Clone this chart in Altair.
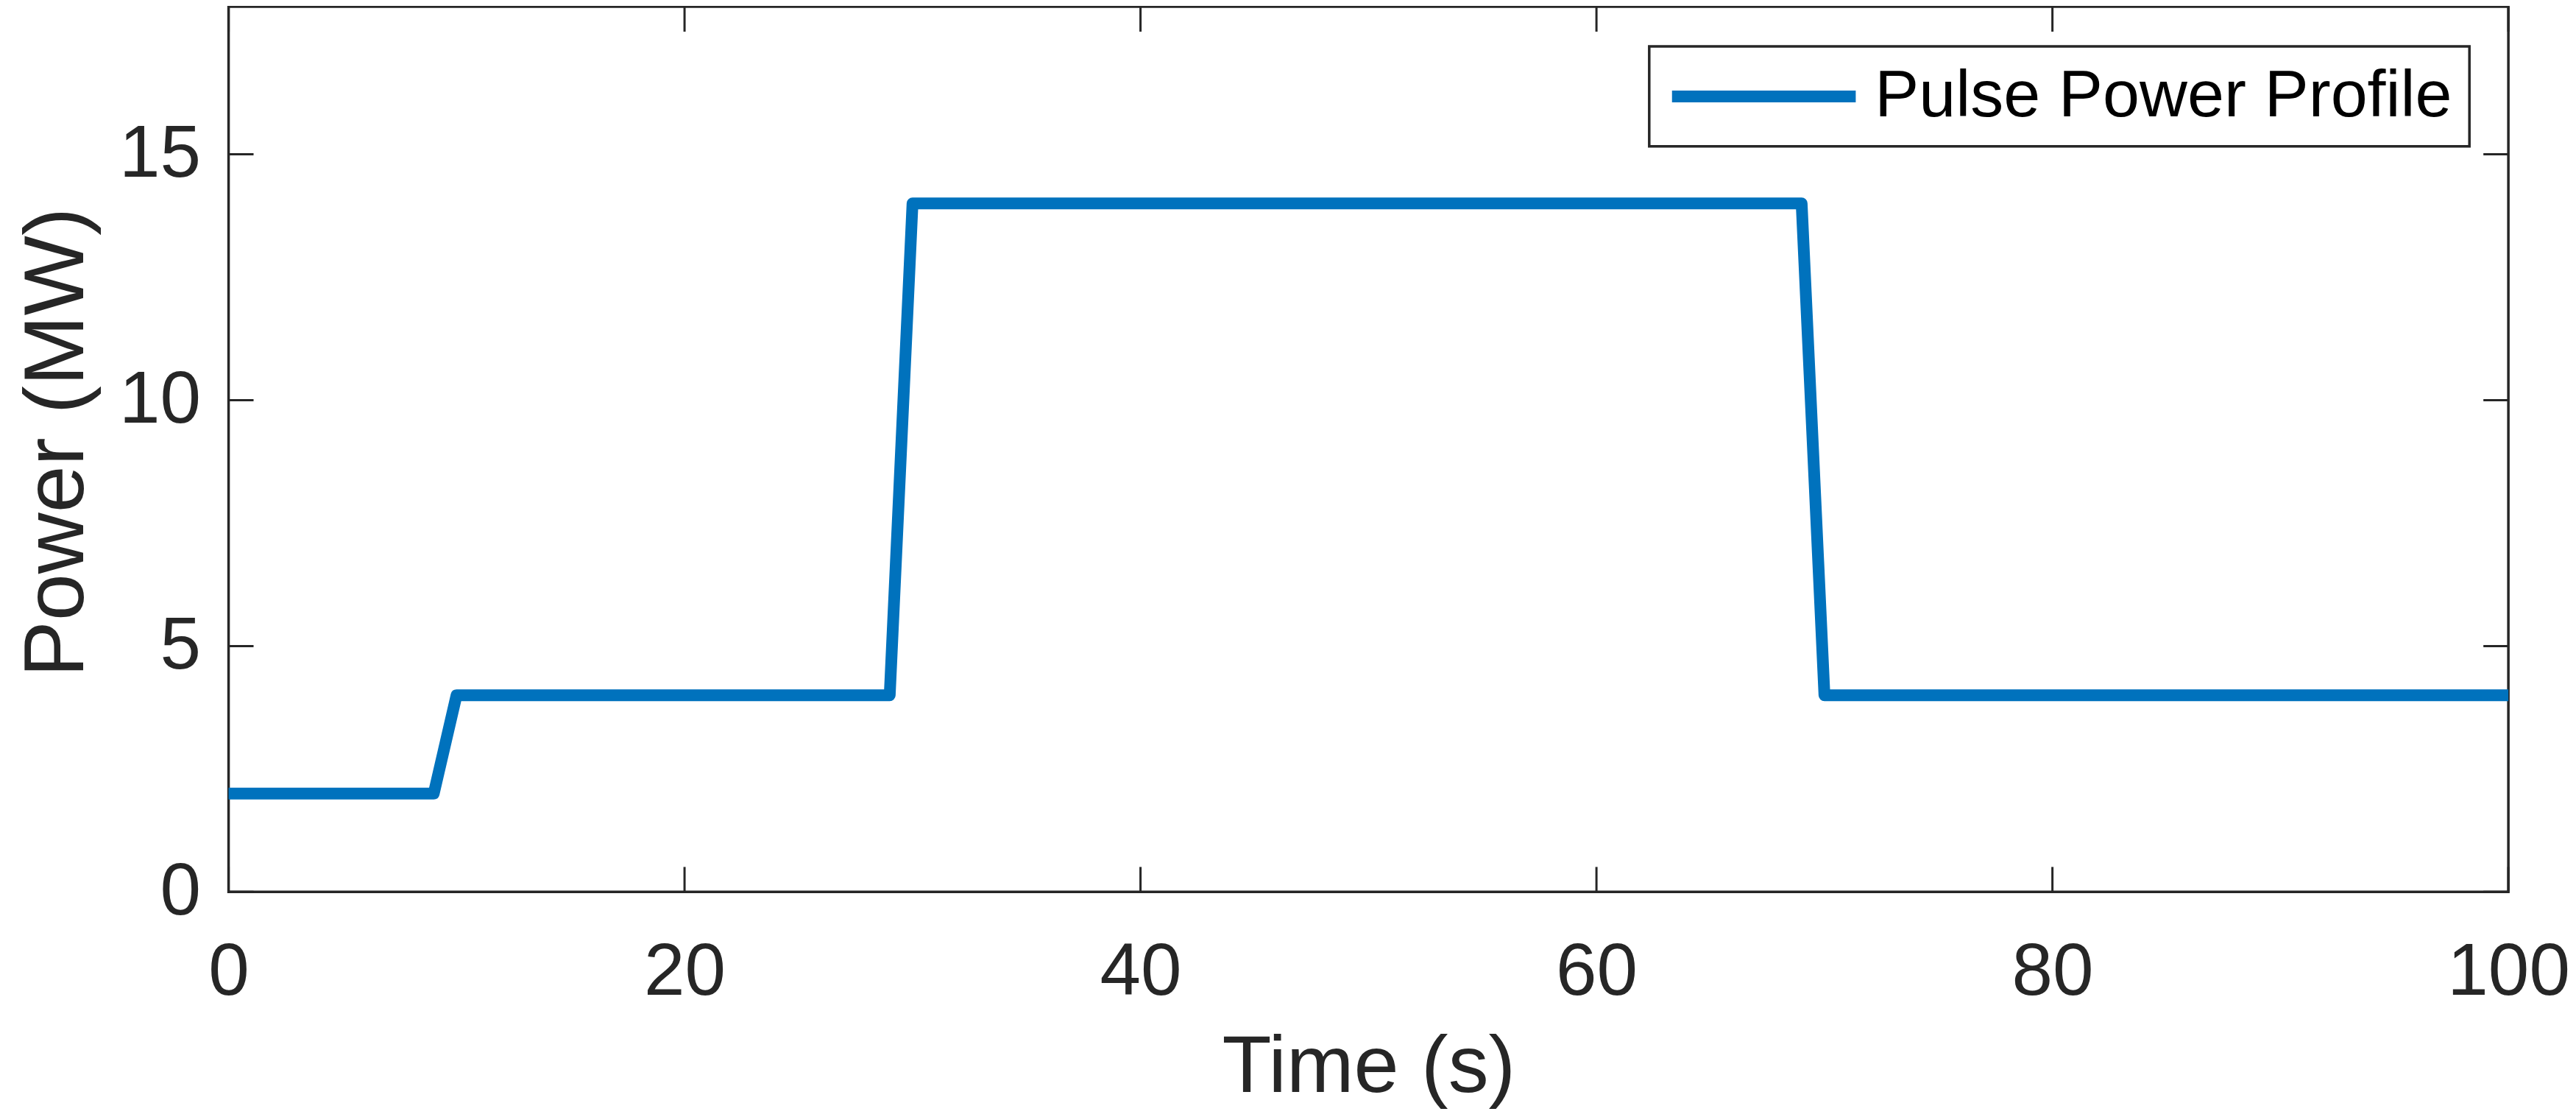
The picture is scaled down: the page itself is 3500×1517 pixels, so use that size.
import altair as alt
import pandas as pd

# Data
time_s = [0, 9, 10, 29, 30, 69, 70, 100]
power_mw = [2, 2, 4, 4, 14, 14, 4, 4]
series_name = "Pulse Power Profile"
x_tick_values = [0, 20, 40, 60, 80, 100]
y_tick_values = [0, 5, 10, 15]

W, H = 3102, 1204
TICK = 34
FONT = "Liberation Sans"
AX = "#262626"

df = pd.DataFrame({"t": time_s, "p": power_mw, "s": [series_name] * len(time_s)})
xt = pd.DataFrame({"t": x_tick_values})
yt = pd.DataFrame({"p": y_tick_values})

xs = alt.Scale(domain=[0, 100], nice=False, zero=False)
ys = alt.Scale(domain=[0, 18], nice=False, zero=False)

x_axis = alt.Axis(
    values=x_tick_values, title="Time (s)", labelFontSize=100, labelFont=FONT,
    labelColor=AX, labelPadding=60, ticks=False, tickSize=0, domain=False, grid=False,
    labelFlush=False, labelOverlap=False,
    titleFont=FONT, titleFontSize=110, titleColor=AX, titleFontWeight="normal",
    titleBaseline="alphabetic", titleY=272)
y_axis = alt.Axis(
    values=y_tick_values, title="Power (MW)", labelFontSize=100, labelFont=FONT,
    labelColor=AX, labelPadding=38, ticks=False, tickSize=0, domain=False, grid=False,
    labelOverlap=False,
    titleFont=FONT, titleFontSize=115, titleColor=AX, titleFontWeight="normal",
    titleBaseline="alphabetic", titleX=-198, titleY=592)

line = alt.Chart(df).mark_line(strokeWidth=16, strokeJoin="round").encode(
    x=alt.X("t:Q", scale=xs, axis=x_axis),
    y=alt.Y("p:Q", scale=ys, axis=y_axis),
    color=alt.Color("s:N", scale=alt.Scale(domain=[series_name], range=["#0072BD"]),
                    legend=alt.Legend(title=None, orient="none", legendX=1933, legendY=54,
                                      symbolType="stroke", symbolSize=62500,
                                      symbolStrokeWidth=16, labelFontSize=90,
                                      labelFont=FONT, labelColor="#000000",
                                      labelLimit=3000, labelOffset=18, padding=23,
                                      clipHeight=90,
                                      strokeColor=AX, fillColor="#ffffff")),
)

xb = alt.Chart(xt).mark_rule(color=AX, strokeWidth=3).encode(
    x=alt.X("t:Q", scale=xs, axis=x_axis), y=alt.value(H), y2=alt.value(H - TICK))
xtp = alt.Chart(xt).mark_rule(color=AX, strokeWidth=3).encode(
    x=alt.X("t:Q", scale=xs, axis=x_axis), y=alt.value(0), y2=alt.value(TICK))
yl = alt.Chart(yt).mark_rule(color=AX, strokeWidth=3).encode(
    y=alt.Y("p:Q", scale=ys, axis=y_axis), x=alt.value(0), x2=alt.value(TICK))
yr = alt.Chart(yt).mark_rule(color=AX, strokeWidth=3).encode(
    y=alt.Y("p:Q", scale=ys, axis=y_axis), x=alt.value(W - TICK), x2=alt.value(W))

chart = alt.layer(line, xb, xtp, yl, yr).properties(
    width=W, height=H,
    autosize=alt.AutoSizeParams(type="none"),
    padding={"left": 303, "top": 0, "right": 84, "bottom": 296},
).configure_view(
    stroke=AX, strokeWidth=3.5
).configure_legend(
    strokeWidth=3.5, cornerRadius=0
)

chart.save("out.html", embed_options={"renderer": "svg", "actions": False})
